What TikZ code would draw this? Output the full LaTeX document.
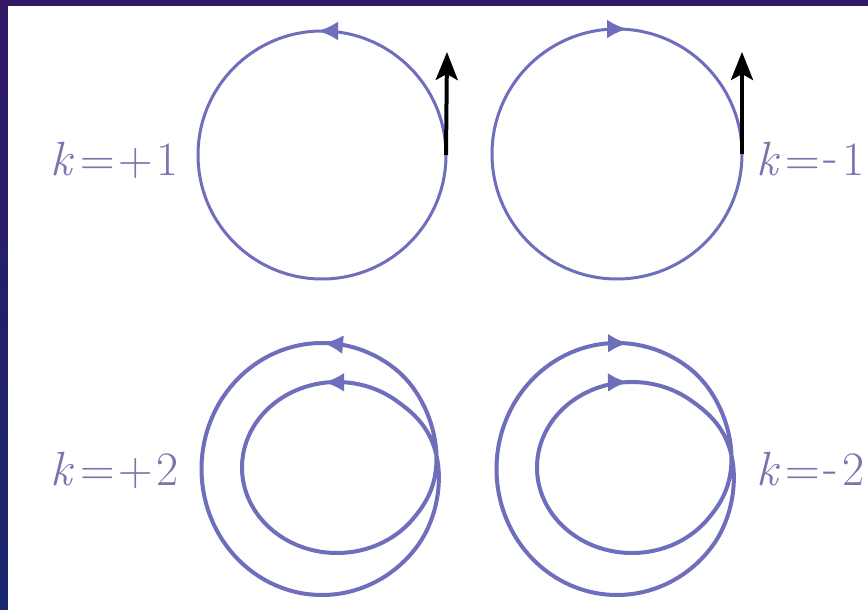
\documentclass[tikz,border=0pt]{standalone}
\usetikzlibrary{arrows.meta}
\definecolor{bordertop}{RGB}{48,24,100}
\definecolor{borderbot}{RGB}{24,40,112}
\definecolor{loopblue}{RGB}{110,110,188}
\definecolor{labelblue}{RGB}{118,118,174}
\tikzset{
  ring/.style={draw=loopblue, line width=3pt, circle, minimum size=#1, inner sep=0pt, outer sep=0pt},
  spiral/.style={draw=loopblue, line width=4pt},
  bluehead/.style={draw=loopblue, line width=3pt, -{Latex[length=20pt,width=19pt]}},
  spinarrow/.style={draw=black, line width=4pt, -{Stealth[length=28pt,width=22pt,inset=6pt]}},
  klabel/.style={text=labelblue, inner sep=0pt, font=\fontsize{48}{52}\selectfont},
  declare function={
    sst(\u)=\u*\u*(3-2*\u);
    bl(\t)=sst(min(max((\t-322)/90,0),1))-sst(min(max((\t-682)/90,0),1));
  },
}
\newcommand{\mydash}{\raisebox{2pt}{-}}
\begin{document}
\begin{tikzpicture}[x=1pt,y=-1pt]
\useasboundingbox (0,0) rectangle (868,610);
% frame
\shade[top color=bordertop, bottom color=borderbot] (0,0) rectangle (868,610);
\fill[white] (8,6) rectangle (868,610);

% top circles
\node[ring=248pt] (c1) at (322,155) {};
\node[ring=250pt] (c2) at (617,154) {};
\draw[bluehead] (338,31) -- (318,31);
\draw[bluehead] (607,29) -- (627,29);
\coordinate (t1) at (447,52);
\coordinate (t2) at (742,52);
\draw[spinarrow] (c1.east) -- (t1);
\draw[spinarrow] (c2.east) -- (t2);

% double loops
\foreach \dx in {0,295}{
\begin{scope}[xshift=\dx pt]
\draw[spiral] plot[domain=52:772, samples=361, variable=\t, smooth]
  ({(322+15*bl(\t))+(120.5-25.5*bl(\t))*cos(\t)},
   {(469-1.5*bl(\t))-(126-40.5*bl(\t))*sin(\t)}) -- cycle;
\end{scope}
}
\draw[bluehead, line width=4pt] (342,344.6) -- (323,343);
\draw[bluehead, line width=4pt] (343,382.3) -- (324,382.3);
\draw[bluehead, line width=4pt] (609,343.2) -- (628,343.2);
\draw[bluehead, line width=4pt] (609,382.4) -- (628,382.2);

% labels
\node[klabel, anchor=base west] (l1) at (50,175) {\textit{k}\kern7pt=\kern3pt+\kern4pt1};
\node[klabel, anchor=base west] (l2) at (756,175) {\textit{k}\kern6pt=\kern3pt\mydash\kern5pt1};
\node[klabel, anchor=base west] (l3) at (50,485) {\textit{k}\kern7pt=\kern3pt+\kern4pt2};
\node[klabel, anchor=base west] (l4) at (756,485) {\textit{k}\kern6pt=\kern3pt\mydash\kern5pt2};
\end{tikzpicture}
\end{document}
